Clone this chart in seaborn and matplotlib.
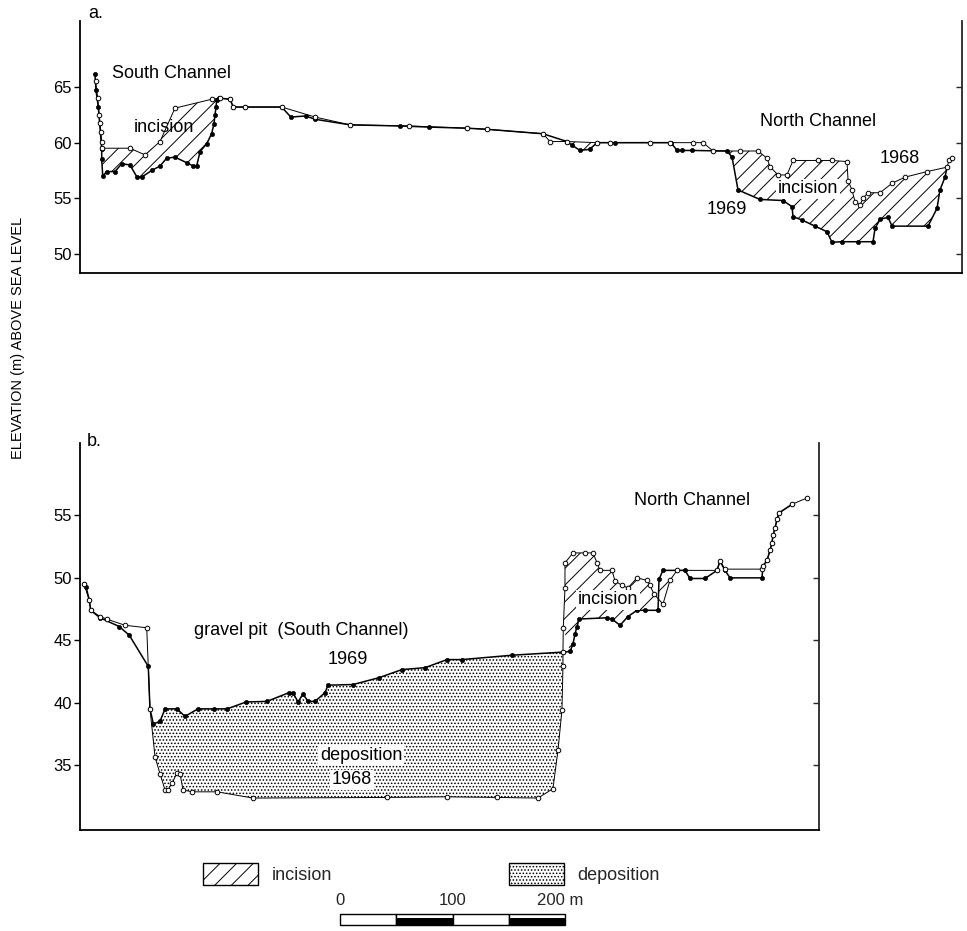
import matplotlib
matplotlib.use("Agg")
import matplotlib.pyplot as plt
from matplotlib.patches import Patch
import seaborn as sns

# ---------------------------------------------------------------------------
# Surveyed cross-profiles: distance along section (m), elevation (m a.s.l.)
# ---------------------------------------------------------------------------
# a. upper section, 1968 survey
a68_x = [13.8, 15.7, 16.9, 17.8, 18.4, 19.3, 19.3, 44.4, 57.8, 71.1, 84.4, 117.0, 124.4, 133.3,
         136.3, 146.7, 179.3, 209.0, 240.0, 292.6, 343.9, 361.8, 411.6, 417.8, 432.9, 459.6,
         471.1, 506.7, 524.4, 544.9, 553.8, 562.7, 586.7, 602.7, 610.7, 613.3, 620.4, 628.4,
         633.8, 656.0, 668.4, 681.8, 682.7, 686.2, 688.9, 693.3, 696.0, 700.4, 711.1, 721.8,
         733.3, 752.9, 770.7, 772.4, 775.1]
a68_y = [65.5, 64.0, 62.5, 61.8, 61.0, 60.1, 59.5, 59.5, 58.9, 60.1, 63.1, 63.9, 64.0, 63.9,
         63.2, 63.2, 63.2, 62.3, 61.6, 61.5, 61.3, 61.2, 60.8, 60.1, 60.1, 60.0,
         60.0, 60.0, 60.0, 60.0, 60.0, 59.25, 59.25, 59.25, 58.6, 57.85, 57.1, 57.1,
         58.4, 58.4, 58.4, 58.3, 56.6, 55.75, 54.7, 54.4, 55.0, 55.5, 55.5, 56.35,
         56.9, 57.4, 57.8, 58.4, 58.6]

# a. upper section, 1969 survey
a69_x = [13.3, 14.2, 16.3, 19.3, 19.3, 20.2, 23.7, 31.1, 37.0, 44.4, 50.4, 54.8, 63.7, 71.1,
         77.0, 84.4, 94.8, 100.7, 103.7, 106.7, 112.6, 117.0, 119.1, 120.0, 120.9, 121.5,
         123.8, 133.3, 136.3, 146.7, 179.3, 187.4, 200.6, 209.0, 240.0, 284.4, 310.2, 343.9,
         361.8, 411.6, 432.9, 437.0, 444.4, 453.0, 459.6, 475.6, 525.3, 530.7, 535.1, 544.0,
         575.1, 579.6, 584.9, 604.4, 624.9, 632.9, 633.8, 641.8, 653.3, 664.0, 668.4, 677.3,
         691.6, 704.9, 706.7, 711.1, 718.2, 721.8, 753.8, 761.8, 764.4, 768.9, 770.7]
a69_y = [66.2, 64.7, 63.2, 59.4, 58.5, 57.0, 57.4, 57.4, 58.1, 58.0, 56.95, 56.9, 57.5, 57.9,
         58.6, 58.7, 58.2, 57.9, 57.9, 59.2, 59.9, 60.8, 61.7, 62.5, 63.2, 63.8,
         64.0, 63.9, 63.2, 63.2, 63.2, 62.3, 62.4, 62.1, 61.6, 61.5, 61.4, 61.3,
         61.2, 60.8, 60.1, 59.8, 59.3, 59.4, 60.0, 60.0, 60.0, 59.3, 59.3, 59.3,
         59.25, 58.7, 55.75, 54.9, 54.8, 54.25, 53.35, 53.05, 52.5, 52.0, 51.05, 51.1,
         51.1, 51.1, 52.3, 53.1, 53.3, 52.5, 52.5, 54.1, 55.75, 56.9, 57.8]

# b. lower section (gravel pit), 1968 survey
b68_x = [3.6, 8.3, 9.5, 17.8, 23.7, 40.0, 59.3, 62.2, 66.7, 71.1, 75.6, 78.2, 81.8, 86.2, 88.9,
         91.6, 99.6, 121.8, 153.8, 272.9, 326.2, 370.7, 407.1, 420.4, 424.9, 428.4, 429.3, 429.3,
         429.6, 431.1, 431.1, 438.2, 448.9, 456.0, 459.6, 462.2, 472.9, 475.6, 481.8, 487.1,
         495.1, 504.0, 506.7, 510.2, 518.2, 524.4, 530.7, 566.2, 568.9, 573.3, 606.2, 607.1,
         610.7, 613.3, 615.1, 616.0, 617.8, 619.6, 621.3, 632.9, 646.2]
b68_y = [49.5, 48.2, 47.4, 46.9, 46.7, 46.2, 46.0, 39.5, 35.65, 34.3, 33.0, 33.0, 33.55, 34.35, 34.3,
         33.0, 32.85, 32.85, 32.35, 32.4, 32.45, 32.4, 32.35, 33.1, 36.2, 39.4, 42.9, 44.05,
         46.0, 49.2, 51.2, 52.0, 52.0, 52.0, 51.2, 50.6, 50.6, 49.75, 49.4, 49.2,
         50.0, 49.8, 49.4, 48.7, 47.9, 49.8, 50.6, 50.6, 51.35, 50.7, 50.7, 50.95,
         51.4, 52.2, 52.8, 53.4, 54.0, 54.7, 55.2, 55.9, 56.4]

# b. lower section (gravel pit), 1969 survey
b69_x = [3.6, 5.3, 8.3, 9.5, 17.8, 34.9, 43.8, 60.7, 62.2, 65.2, 71.1, 75.6, 86.2, 93.3, 104.9,
         119.1, 130.7, 147.6, 166.2, 185.8, 189.3, 193.8, 198.2, 202.7, 208.9, 217.8, 220.4,
         242.7, 265.8, 286.2, 306.7, 326.2, 339.6, 384.0, 429.3, 435.6, 438.2, 440.0, 441.8,
         443.6, 468.4, 472.9, 480.0, 487.1, 495.1, 502.2, 513.8, 514.7, 518.2, 537.8, 542.2,
         555.6, 566.2, 568.9, 573.3, 577.8, 606.2, 607.1, 610.7, 613.3, 615.1, 616.0, 617.8,
         619.6, 621.3, 632.9]
b69_y = [49.5, 49.3, 48.2, 47.4, 46.8, 46.1, 45.4, 42.9, 39.5, 38.3, 38.5, 39.5, 39.5, 38.9, 39.5,
         39.5, 39.5, 40.05, 40.1, 40.8, 40.8, 40.05, 40.7, 40.1, 40.1, 40.8, 41.4,
         41.45, 42.0, 42.65, 42.8, 43.45, 43.45, 43.8, 44.05, 44.1, 44.7, 45.5, 46.1,
         46.7, 46.8, 46.7, 46.2, 46.9, 47.4, 47.4, 47.4, 49.9, 50.6, 50.6, 49.95,
         49.95, 50.6, 51.35, 50.6, 50.0, 50.0, 50.95, 51.4, 52.2, 52.8, 53.4, 54.0,
         54.7, 55.2, 55.9]

a_ticks = [50, 55, 60, 65]
b_ticks = [35, 40, 45, 50, 55]

# reaches where the bed changed between surveys: (x from, x to) per survey
a_incision = [((19.0, 124.5), (19.0, 124.5)), ((432.0, 460.0), (432.0, 460.0)),
              ((575.0, 776.0), (575.0, 776.0))]
b_incision = [((429.5, 531.0), (435.0, 531.0))]
b_deposition = [((62.0, 429.4), (62.0, 429.4))]

scale_edges = [0, 50, 100, 150]
scale_fill = ["white", "black", "white", "black"]
scale_labels = ["0", "100", "200 m"]

# ---------------------------------------------------------------------------
sns.set_theme(style="white")
plt.rcParams["font.family"] = ["Liberation Sans", "DejaVu Sans"]
plt.rcParams["hatch.linewidth"] = 0.7
plt.rcParams["hatch.color"] = "black"

W, H = 967, 931
fig = plt.figure(figsize=(W / 100, H / 100), dpi=100)
ax_a = fig.add_axes([80 / W, 1 - 273 / H, 882 / W, 252 / H])
ax_b = fig.add_axes([80 / W, 1 - 830 / H, 739 / W, 387 / H])

ax_a.set_xlim(0, 784.0)
ax_a.set_ylim(48.29, 70.93)
ax_b.set_xlim(0, 656.9)
ax_b.set_ylim(29.79, 60.81)


def band(x_top, y_top, x_bot, y_bot, top_rng, bot_rng):
    """Polygon enclosed by one profile (forward) and the other (reversed)."""
    xs, ys = [], []
    for x, y in zip(x_top, y_top):
        if top_rng[0] <= x <= top_rng[1]:
            xs.append(x)
            ys.append(y)
    rx, ry = [], []
    for x, y in zip(x_bot, y_bot):
        if bot_rng[0] <= x <= bot_rng[1]:
            rx.append(x)
            ry.append(y)
    return xs + rx[::-1], ys + ry[::-1]


def profile(ax, x, y, filled):
    if filled:
        sns.lineplot(x=x, y=y, ax=ax, sort=False, estimator=None, color="black",
                     linewidth=1.1, marker="o", markersize=3.0, markerfacecolor="black",
                     markeredgecolor="black", markeredgewidth=0.5, zorder=4)
    else:
        sns.lineplot(x=x, y=y, ax=ax, sort=False, estimator=None, color="black",
                     linewidth=0.7, marker="o", markersize=3.3, markerfacecolor="white",
                     markeredgecolor="black", markeredgewidth=0.7, zorder=5)


# incision (hatched) and deposition (stippled) areas
for r68, r69 in a_incision:
    px, py = band(a68_x, a68_y, a69_x, a69_y, r68, r69)
    ax_a.fill(px, py, facecolor="none", edgecolor="black", linewidth=0, hatch="//", zorder=2)
for r68, r69 in b_incision:
    px, py = band(b68_x, b68_y, b69_x, b69_y, r68, r69)
    ax_b.fill(px, py, facecolor="none", edgecolor="black", linewidth=0, hatch="//", zorder=2)
for r68, r69 in b_deposition:
    px, py = band(b69_x, b69_y, b68_x, b68_y, r69, r68)
    ax_b.fill(px, py, facecolor="none", edgecolor="black", linewidth=0, hatch=".....", zorder=2)

profile(ax_a, a69_x, a69_y, True)
profile(ax_a, a68_x, a68_y, False)
profile(ax_b, b69_x, b69_y, True)
profile(ax_b, b68_x, b68_y, False)

for ax, ticks in ((ax_a, a_ticks), (ax_b, b_ticks)):
    ax.set_xlabel("")
    ax.set_ylabel("")
    ax.set_xticks([])
    ax.set_yticks(ticks)
    ax.set_yticklabels([str(t) for t in ticks])
    ax.tick_params(axis="y", left=True, direction="out", length=4, width=1.0,
                   labelsize=12, pad=2, colors="black")
    sec = ax.secondary_yaxis("right")
    sec.set_yticks(ticks)
    sec.tick_params(axis="y", direction="in", length=4, width=1.0, labelright=False)
    sec.spines["right"].set_linewidth(1.3)
    ax.spines["top"].set_visible(False)
    ax.spines["right"].set_visible(False)
    for s in ("left", "bottom"):
        ax.spines[s].set_linewidth(1.3)
        ax.spines[s].set_color("black")
    ax.grid(False)

txt = dict(color="black", ha="center", va="center", fontsize=13)
box = dict(facecolor="white", edgecolor="none", pad=1.0)

ax_a.text(14.2, 71.6, "a.", clip_on=False, **txt)
ax_a.text(80.9, 66.17, "South Channel", **txt)
ax_a.text(74.7, 61.4, "incision", **txt)
ax_a.text(656.0, 61.86, "North Channel", **txt)
ax_a.text(728.9, 58.62, "1968", **txt)
ax_a.text(647.1, 55.84, "incision", bbox=box, zorder=6, **txt)
ax_a.text(575.1, 53.95, "1969", **txt)

ax_b.text(12.4, 60.9, "b.", clip_on=False, **txt)
ax_b.text(544.0, 56.24, "North Channel", **txt)
ax_b.text(196.4, 45.82, "gravel pit  (South Channel)", **txt)
ax_b.text(238.2, 43.42, "1969", **txt)
ax_b.text(249.8, 35.8, "deposition", bbox=box, zorder=6, **txt)
ax_b.text(241.8, 33.8, "1968", bbox=box, zorder=6, **txt)
ax_b.text(469.3, 48.23, "incision", bbox=box, zorder=6, **txt)

fig.text(18 / W, 1 - 338 / H, "ELEVATION (m) ABOVE SEA LEVEL", rotation=90,
         ha="center", va="center", fontsize=10.5, color="black")

# key to the shading
handles = [Patch(facecolor="white", edgecolor="black", hatch="//", linewidth=1.0, label="incision"),
           Patch(facecolor="white", edgecolor="black", hatch=".....", linewidth=1.0, label="deposition")]
fig.legend(handles=handles, loc="center left", bbox_to_anchor=(203 / W, 1 - 874 / H),
           ncol=2, frameon=False, fontsize=13, handlelength=3.05, handleheight=1.55,
           handletextpad=0.78, columnspacing=9.75, borderpad=0, borderaxespad=0)

# scale bar
ax_s = fig.add_axes([340 / W, 1 - 925 / H, 225 / W, 11 / H])
ax_s.set_xlim(0, 200)
ax_s.set_ylim(0, 1)
ax_s.axis("off")
ax_s.bar(scale_edges, [1] * 4, width=50, align="edge", color="white",
         edgecolor="black", linewidth=1.0, clip_on=False)
for x0, c in zip(scale_edges, scale_fill):
    if c == "black":
        ax_s.bar([x0], [0.65], width=50, align="edge", color="black", linewidth=0)
ax_s.text(0, 2.2, scale_labels[0], ha="center", va="center", fontsize=12, clip_on=False)
ax_s.text(100, 2.2, scale_labels[1], ha="center", va="center", fontsize=12, clip_on=False)
ax_s.text(175, 2.2, scale_labels[2], ha="left", va="center", fontsize=12, clip_on=False)

fig.savefig("out.png", dpi=100)
